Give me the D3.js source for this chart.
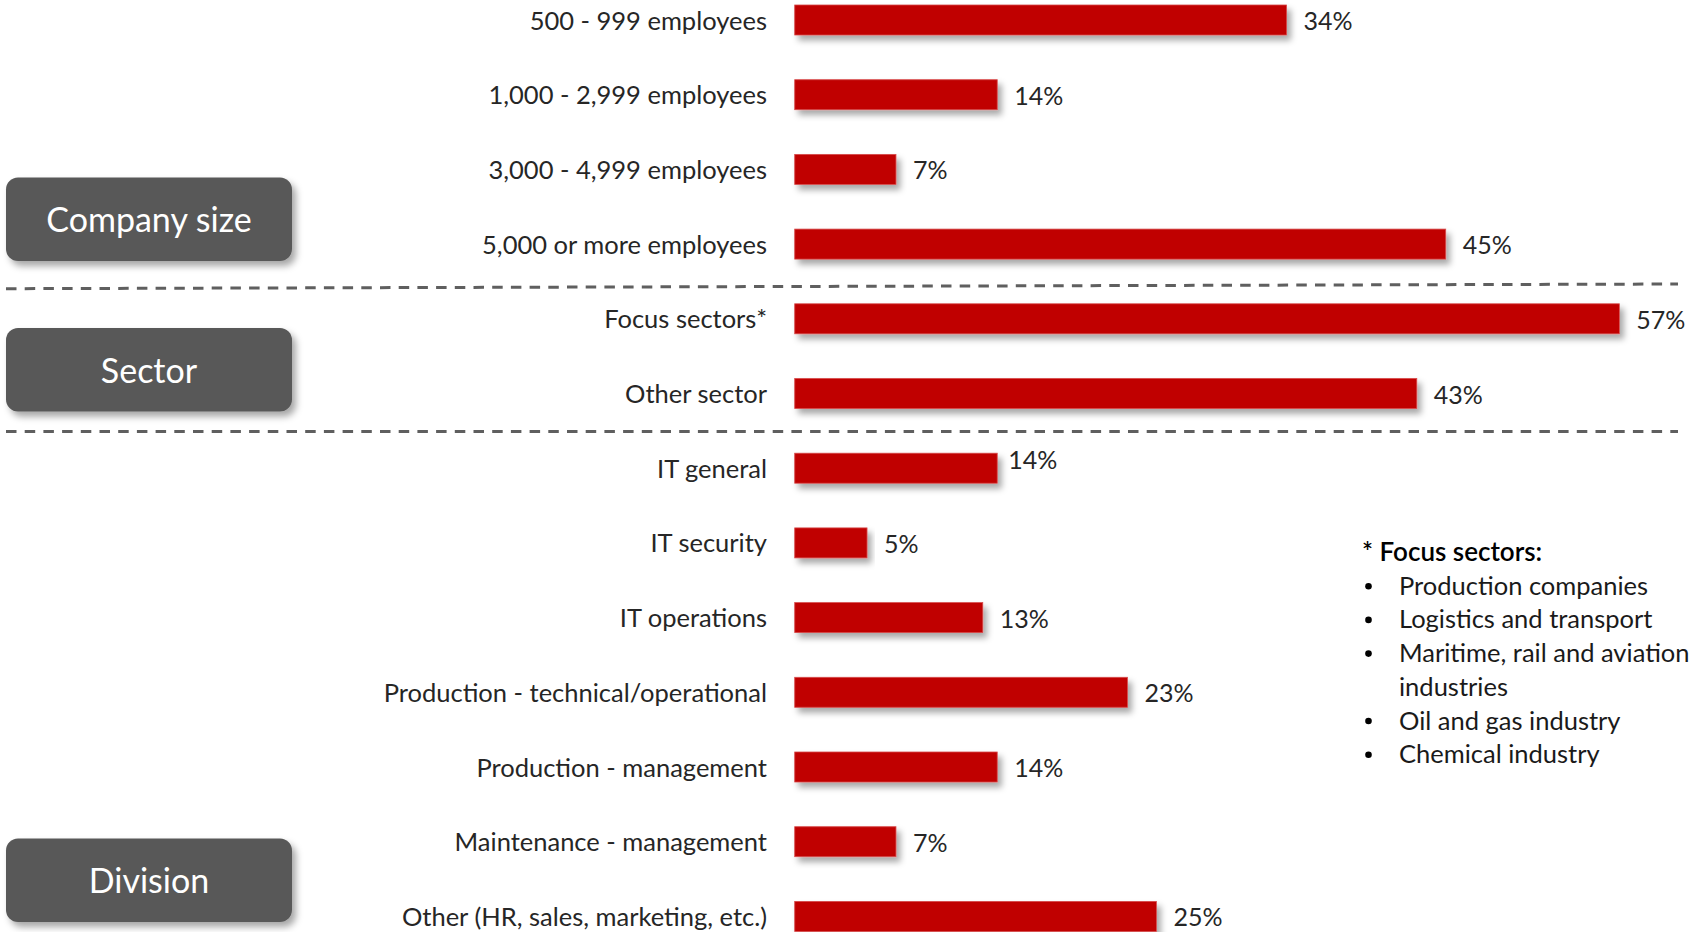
<!DOCTYPE html>
<html>
<head>
<meta charset="utf-8">
<script src="https://cdn.jsdelivr.net/npm/d3@7"></script>
<style>
  body { margin: 0; background: #fff; }
  svg { display: block; }
  text { font-family: Lato, "Open Sans", sans-serif; }
</style>
</head>
<body>
<svg id="chart" width="1704" height="932"></svg>
<script>
// Survey respondents by company size, sector and division (share in %)
const categories = [
  "500 - 999 employees",
  "1,000 - 2,999 employees",
  "3,000 - 4,999 employees",
  "5,000 or more employees",
  "Focus sectors*",
  "Other sector",
  "IT general",
  "IT security",
  "IT operations",
  "Production - technical/operational",
  "Production - management",
  "Maintenance - management",
  "Other (HR, sales, marketing, etc.)"
];
const shares = [34, 14, 7, 45, 57, 43, 14, 5, 13, 23, 14, 7, 25];

const groupNames = ["Company size", "Sector", "Division"];

const focusTitle = "* Focus sectors:";
const focusSectors = [
  "Production companies",
  "Logistics and transport",
  "Maritime, rail and aviation\nindustries",
  "Oil and gas industry",
  "Chemical industry"
];

const rows = categories.map((c, i) => ({ category: c, value: shares[i] }));

const svg = d3.select("#chart");

const defs = svg.append("defs");
defs.append("filter").attr("id", "barShadow")
  .attr("x", "-5%").attr("y", "-40%").attr("width", "115%").attr("height", "200%")
  .append("feDropShadow")
  .attr("dx", 4).attr("dy", 5).attr("stdDeviation", 3)
  .attr("flood-color", "#000").attr("flood-opacity", 0.34);
defs.append("filter").attr("id", "boxShadow")
  .attr("x", "-10%").attr("y", "-20%").attr("width", "125%").attr("height", "150%")
  .append("feDropShadow")
  .attr("dx", 4).attr("dy", 5).attr("stdDeviation", 3.5)
  .attr("flood-color", "#000").attr("flood-opacity", 0.35);

// Scales
const barX0 = 794.7;
const x = d3.scaleLinear().domain([0, 100]).range([barX0, barX0 + 1446.7]);
const y = d3.scalePoint().domain(categories).range([20, 916.4]);
const barH = 30;

// Section separators
const separators = [
  { x1: 6, y1: 288.7, x2: 1678, y2: 284 },
  { x1: 6, y1: 431.5, x2: 1678, y2: 431.5 }
];
svg.append("g").selectAll("line").data(separators).join("line")
  .attr("x1", d => d.x1).attr("y1", d => d.y1)
  .attr("x2", d => d.x2).attr("y2", d => d.y2)
  .attr("stroke", "#5f5f5f").attr("stroke-width", 3)
  .attr("stroke-dasharray", "10.5 8.2");

// Bars
svg.append("g").selectAll("rect").data(rows).join("rect")
  .attr("x", x(0))
  .attr("y", d => y(d.category) - barH / 2)
  .attr("width", d => x(d.value) - x(0))
  .attr("height", barH)
  .attr("fill", "#c00000")
  .attr("stroke", "#d84a4a").attr("stroke-width", 0.8)
  .attr("filter", "url(#barShadow)");

// Category labels
svg.append("g").selectAll("text").data(rows).join("text")
  .attr("x", 767)
  .attr("y", d => y(d.category) + 9.5)
  .attr("text-anchor", "end")
  .attr("font-size", 25.5)
  .attr("fill", "#262626")
  .text(d => d.category);

// Value labels (the IT general label sits a little higher and closer)
const labelNudge = { "IT general": { dx: -6, dy: -9 } };
svg.append("g").selectAll("text").data(rows).join("text")
  .attr("x", d => x(d.value) + 17 + ((labelNudge[d.category] || {}).dx || 0))
  .attr("y", d => y(d.category) + 10 + ((labelNudge[d.category] || {}).dy || 0))
  .attr("font-size", 25)
  .attr("fill", "#262626")
  .text(d => d.value + "%");

// Group boxes
const boxes = [
  { name: groupNames[0], y: 177.5 },
  { name: groupNames[1], y: 328 },
  { name: groupNames[2], y: 838.5 }
];
const boxW = 286, boxH = 83.5;
const bg = svg.append("g").selectAll("g").data(boxes).join("g")
  .attr("transform", d => `translate(6,${d.y})`);
bg.append("rect")
  .attr("width", boxW).attr("height", boxH)
  .attr("rx", 12).attr("ry", 12)
  .attr("fill", "#595959")
  .attr("filter", "url(#boxShadow)");
bg.append("text")
  .attr("x", boxW / 2).attr("y", boxH / 2 + 13)
  .attr("text-anchor", "middle")
  .attr("font-size", 34)
  .attr("fill", "#fff")
  .text(d => d.name);

// Focus sector note
const noteTop = 561;
const note = svg.append("g");
note.append("text")
  .attr("x", 1362).attr("y", noteTop)
  .attr("font-size", 26).attr("font-weight", 600)
  .attr("fill", "#000")
  .text(focusTitle);
const lineStep = 33.7;
let lineIdx = 1;
focusSectors.forEach(item => {
  item.split("\n").forEach((part, k) => {
    const yy = noteTop + lineStep * lineIdx;
    if (k === 0) {
      note.append("circle").attr("cx", 1368.5).attr("cy", yy - 8.5).attr("r", 3.3).attr("fill", "#000");
    }
    note.append("text")
      .attr("x", 1399).attr("y", yy)
      .attr("font-size", 25.5).attr("fill", "#1a1a1a")
      .text(part);
    lineIdx++;
  });
});
</script>
</body>
</html>
